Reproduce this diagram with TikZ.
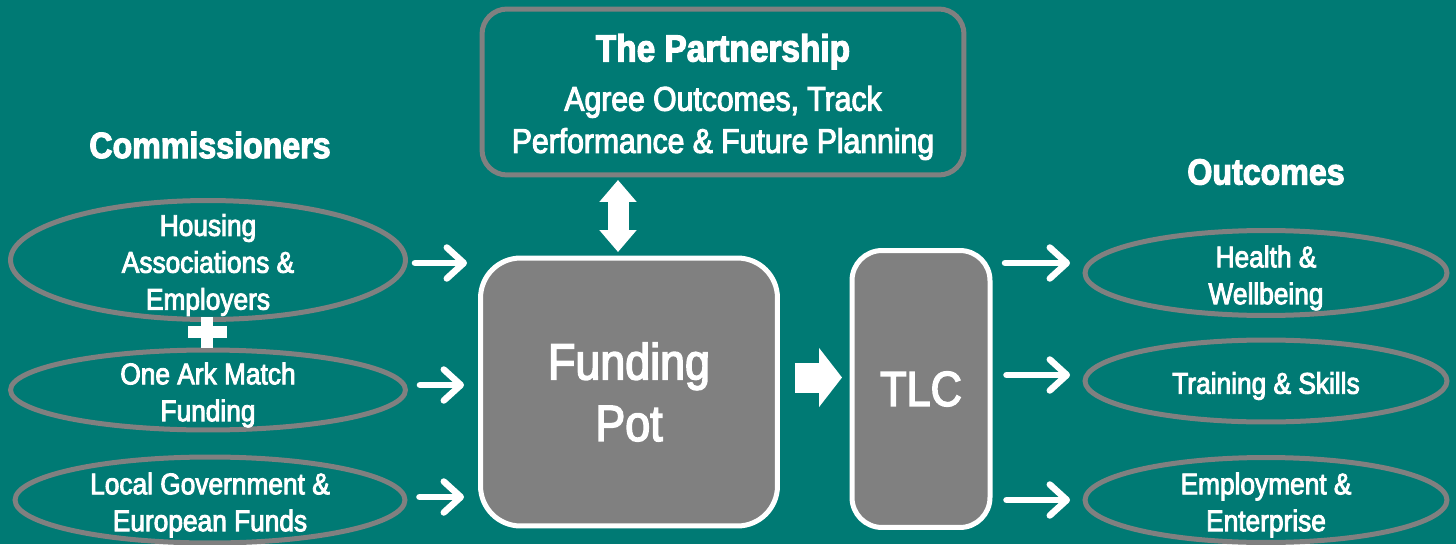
\documentclass[tikz,border=0pt]{standalone}
\usepackage{fontspec}
\setmainfont[FakeStretch=0.88,FakeBold=3]{Liberation Sans}
\usetikzlibrary{arrows.meta,shapes.geometric}

\begin{document}
\begin{tikzpicture}
	[x=0.02cm,y=-0.02cm,line cap=round,
	%Styles
	ellipse text/.style={text=white,align=center,font=\fontsize{17}{21}\selectfont,yshift=-0.1cm},
	commissioner/.style={ellipse,draw=boxgray,line width=0.1cm,label={[ellipse text]center:#1}},
	heading/.style={text=white,font=\bfseries\fontsize{20.8}{25}\selectfont},
	pot box/.style={rectangle,draw=white,fill=boxgray,line width=0.1cm,text=white,align=center},
	partner text/.style={text=white,align=center,font=\fontsize{19.5}{24}\selectfont,yshift=-0.1cm},
	partner box/.style={rectangle,draw=boxgray,line width=0.1cm,rounded corners=0.5cm,
		label={[partner text]center:#1}},
	flow/.style={white,line width=0.13cm,
		-{Straight Barb[length=0.34cm,width=0.62cm,line cap=round,line join=round]}},
	block arrow/.style={white,line width=#1,line cap=butt}
	]
	
	%Colors
	\definecolor{bgteal}{RGB}{0,122,116}	%background
	\definecolor{boxgray}{RGB}{128,128,128}	%borders and boxes
	
	\fill[bgteal] (0,0) rectangle (1456,544);
	\useasboundingbox (0,0) rectangle (1456,544);
	
	%Headings
	\node[heading] (comm) at (210,145) {Commissioners};
	\node[heading] (outc) at (1266,172) {Outcomes};
	
	%Commissioners
	\node[commissioner={Housing\\Associations \&\\Employers},minimum width=7.9cm,minimum height=2.38cm] (hous) at (208,260) {};
	\node[commissioner={One Ark Match\\Funding},minimum width=7.9cm,minimum height=1.6cm] (ark) at (208,390) {};
	\node[commissioner={Local Government \&\\European Funds},minimum width=7.8cm,minimum height=1.72cm] (local) at (210,500) {};
	\fill[white] (188,326) rectangle (227,338);
	\fill[white] (201,317) rectangle (213,348);
	
	%Outcomes
	\node[commissioner={Health \&\\Wellbeing},minimum width=7.24cm,minimum height=1.7cm] (health) at (1266,273) {};
	\node[commissioner={Training \& Skills},minimum width=7.24cm,minimum height=1.64cm] (train) at (1266,381) {};
	\node[commissioner={Employment \&\\Enterprise},minimum width=7.24cm,minimum height=1.7cm] (empl) at (1266,500) {};
	
	%Boxes
	\node[partner box={{\bfseries\fontsize{21.6}{26}\selectfont The Partnership}\\[4pt]Agree Outcomes, Track\\Performance \& Future Planning},
		minimum width=9.64cm,minimum height=3.32cm] (part) at (723,92) {};
	\node[pot box,rounded corners=0.8cm,minimum width=5.94cm,minimum height=5.36cm,font=\fontsize{29}{35}\selectfont] (pot) at (629,392) {Funding\\Pot};
	\node[pot box,rounded corners=0.6cm,minimum width=2.76cm,minimum height=5.54cm,font=\fontsize{28}{32}\selectfont] (tlc) at (921,389) {TLC};
	
	%Arrows in
	\draw[flow,shorten <=0.14cm,shorten >=0.22cm] ([yshift=-0.06cm]hous.east) -- ([yshift=-0.06cm]hous.east -| pot.west);
	\draw[flow,shorten <=0.24cm,shorten >=0.28cm] ([yshift=0.1cm]ark.east) -- ([yshift=0.1cm]ark.east -| pot.west);
	\draw[flow,shorten <=0.24cm,shorten >=0.28cm] ([yshift=0.06cm]local.east) -- ([yshift=0.06cm]local.east -| pot.west);
	
	%Arrows out
	\draw[flow,shorten <=0.25cm,shorten >=0.25cm] ([yshift=0.2cm]tlc.east |- health.west) -- ([yshift=0.2cm]health.west);
	\draw[flow,shorten <=0.28cm,shorten >=0.25cm] ([yshift=0.12cm]tlc.east |- train.west) -- ([yshift=0.12cm]train.west);
	\draw[flow,shorten <=0.28cm,shorten >=0.25cm] (tlc.east |- empl.west) -- (empl.west);
	
	%Block arrows
	\draw[block arrow=0.6cm,-{Triangle[length=0.46cm,width=1.16cm]},shorten <=0.3cm,shorten >=0.15cm]
		([yshift=0.29cm]pot.east) -- ([yshift=0.29cm]pot.east -| tlc.west);
	\draw[block arrow=0.42cm,{Triangle[length=0.44cm,width=0.72cm]}-{Triangle[length=0.44cm,width=0.72cm]},shorten <=0.05cm,shorten >=0.07cm]
		([xshift=-0.22cm]pot.north |- part.south) -- ([xshift=-0.22cm]pot.north);
\end{tikzpicture}
\end{document}
